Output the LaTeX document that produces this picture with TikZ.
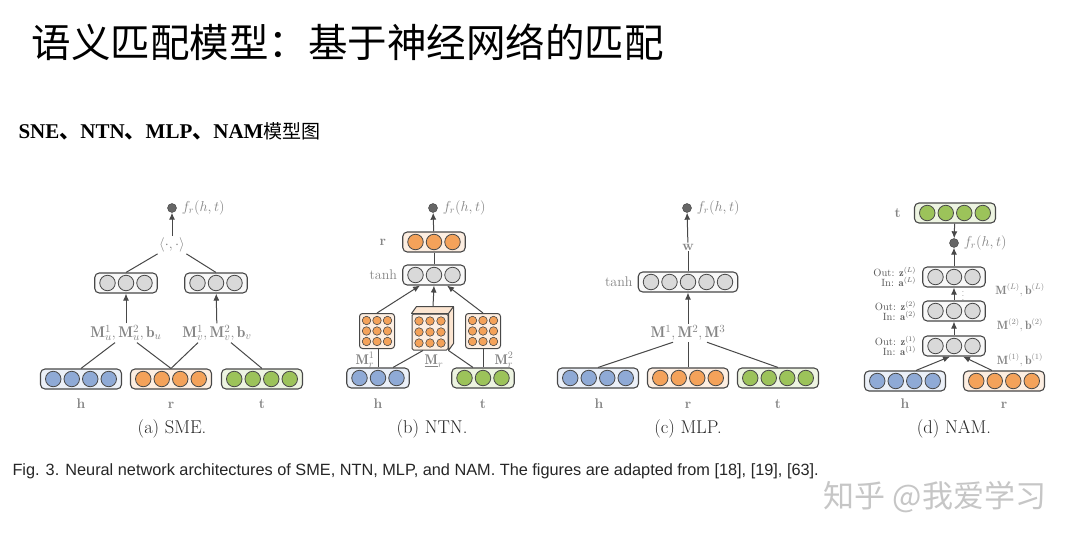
\documentclass[tikz,border=0pt]{standalone}
\usepackage{fontspec}
\usepackage{amsmath, amssymb}
\usepackage{xcolor}
\usetikzlibrary{positioning, calc, arrows.meta}

\newfontfamily\cjk{Noto Sans CJK SC}
\newfontfamily\capfont{Liberation Sans}
\newfontfamily\subfont{Liberation Serif}

\definecolor{hblue}{HTML}{8FAAD6}
\definecolor{rorange}{HTML}{F4A25A}
\definecolor{tgreen}{HTML}{9CC35A}
\definecolor{hidgray}{HTML}{D9D9D9}
\definecolor{labelgray}{HTML}{858585}
\definecolor{linegray}{HTML}{484848}

\tikzset{
  vecbox/.style={draw=linegray, line width=1.1pt, rounded corners=4.5pt, minimum height=20pt, inner sep=0pt},
  unit/.style={circle, draw=linegray, line width=0.8pt, minimum size=15.5pt, inner sep=0pt},
  matbox/.style={draw=linegray, line width=1pt, rounded corners=3pt, fill=rorange!18, minimum size=35pt, inner sep=0pt},
  matunit/.style={circle, draw=linegray, line width=0.6pt, fill=rorange, minimum size=8.5pt, inner sep=0pt},
  outdot/.style={circle, draw=black!75, fill=black!60, minimum size=9pt, inner sep=0pt},
  link/.style={draw=linegray, line width=1pt},
  arr/.style={draw=linegray, line width=1pt, -{Latex[length=7pt,width=6pt]}},
  vname/.style={text=labelgray, inner sep=1pt, font=\fontsize{14}{16}\selectfont\bfseries},
  mname/.style={text=labelgray, inner sep=1.5pt, font=\fontsize{15.5}{17}\selectfont},
  fname/.style={text=labelgray, inner sep=1pt, font=\fontsize{14}{16}\selectfont},
  nname/.style={text=black!65, inner sep=1pt, align=right, font=\fontsize{10.5}{9.5}\selectfont},
  capname/.style={text=black!85, font=\fontsize{18.5}{20}\selectfont}
}

% a row of units inside a rounded box
\newcommand{\veclayer}[4]{%
  \pgfmathsetmacro\boxw{#3*18.5+7}
  \node[vecbox, fill=#4!18, minimum width=\boxw pt] (#1) at (#2) {};
  \foreach \k in {1,...,#3}
    \node[unit, fill=#4] at ([xshift={(\k-(#3+1)/2)*18.5pt}]#1.center) {};
}
% a 3x3 weight matrix
\newcommand{\weightmat}[2]{%
  \node[matbox] (#1) at (#2) {};
  \foreach \i in {-1,0,1}
    \foreach \j in {-1,0,1}
      \node[matunit] at ([shift={(\i*10.5pt,\j*10.5pt)}]#1.center) {};
}

\begin{document}
\begin{tikzpicture}[x=1pt, y=-1pt]
\fill[white] (0,0) rectangle (1080,544);
\useasboundingbox (0,0) rectangle (1080,544);

\node[anchor=west] (title) at (28,42) {\cjk\fontsize{39.5}{39.5}\selectfont 语义匹配模型：基于神经网络的匹配};
\node[anchor=west] (subtitle) at (15,131) {\fontsize{21}{21}\selectfont\subfont\bfseries SNE{\cjk 、}NTN{\cjk 、}MLP{\cjk 、}NAM{\cjk\mdseries\fontsize{19}{19}\selectfont 模型图}};

% (a) SME
\veclayer{ah}{81,379}{4}{hblue}
\veclayer{ar}{171,379}{4}{rorange}
\veclayer{at}{262,379}{4}{tgreen}
\node[vname, anchor=base] at (81,408) {h};
\node[vname, anchor=base] at (171,408) {r};
\node[vname, anchor=base] at (262,408) {t};
\veclayer{au}{126,283}{3}{hidgray}
\veclayer{av}{216,283}{3}{hidgray}
\node[mname] (aml) at (126,333) {$\mathbf{M}_u^1,\mathbf{M}_u^2,\mathbf{b}_u$};
\node[mname] (amr) at (217,333) {$\mathbf{M}_v^1,\mathbf{M}_v^2,\mathbf{b}_v$};
\node[mname] (aip) at (172,245) {$\langle\cdot,\cdot\rangle$};
\node[outdot] (adot) at (172,208) {};
\node[fname, right=4pt of adot] {$f_r(h,t)$};
\draw[link] (ah.north) -- ([xshift=-11pt]aml.south);
\draw[link] (ar.north) -- ([xshift=11pt]aml.south);
\draw[link] (ar.north) -- ([xshift=-19pt]amr.south);
\draw[link] (at.north) -- ([xshift=14pt]amr.south);
\draw[arr] (aml) -- (au);
\draw[arr] (amr) -- (av);
\draw[link] (au.north) -- (aip.south west);
\draw[link] (av.north) -- (aip.south east);
\draw[arr] (aip) -- (adot);
\node[capname] at (172,429) {(a) SME.};

% (b) NTN
\veclayer{bh}{378,378}{3}{hblue}
\veclayer{bt}{483,378}{3}{tgreen}
\node[vname, anchor=base] at (378,408) {h};
\node[vname, anchor=base] at (483,408) {t};
\weightmat{bm1}{377,331}
\weightmat{bm2}{483,331}
\node[matbox, minimum size=36pt, rounded corners=1.5pt] (bmr) at (430,332) {};
\filldraw[draw=linegray, line width=1pt, fill=rorange!28, line join=round] (bmr.north west) -- ++(5pt,7pt) -- ([shift={(5pt,7pt)}]bmr.north east) -- ([shift={(5pt,7pt)}]bmr.south east) -- (bmr.south east) -- (bmr.north east) -- cycle;
\draw[link] (bmr.north east) -- ++(5pt,7pt);
\foreach \i in {-1,0,1}
  \foreach \j in {-1,0,1}
    \node[matunit] at ([shift={(\i*11pt,\j*11pt)}]bmr.center) {};
\node[mname, font=\fontsize{14}{16}\selectfont] (bl1) at (365,360) {$\mathbf{M}_r^1$};
\node[mname, font=\fontsize{14}{16}\selectfont] (blr) at (434,361) {$\underline{\mathbf{M}}_r$};
\node[mname, font=\fontsize{14}{16}\selectfont] (bl2) at (504,360) {$\mathbf{M}_r^2$};
\draw[link] (bh.north) -- (bh.north |- bm1.south);
\draw[link] ([xshift=15pt]bh.north) -- ([xshift=-7pt]bmr.south);
\draw[link] (bmr.south east) -- ([xshift=-10pt]bt.north);
\draw[link] (bt.north) -- (bm2.south);
\veclayer{btanh}{434,275}{3}{hidgray}
\node[fname, left=4pt of btanh] {tanh};
\draw[arr] (bm1.north) -- ([xshift=-14pt]btanh.south);
\draw[arr] ([shift={(3pt,7pt)}]bmr.north) -- (btanh.south);
\draw[arr] (bm2.north) -- ([xshift=13pt]btanh.south);
\veclayer{br}{434,242}{3}{rorange}
\node[vname, left=15pt of br] {r};
\draw[link] (btanh) -- (br);
\node[outdot] (bdot) at (433,208) {};
\draw[arr] (br) -- (bdot);
\node[fname, right=4pt of bdot] {$f_r(h,t)$};
\node[capname] at (432,429) {(b) NTN.};

% (c) MLP
\veclayer{ch}{598,378}{4}{hblue}
\veclayer{cr}{688,378}{4}{rorange}
\veclayer{ct}{778,378}{4}{tgreen}
\node[vname, anchor=base] at (599,408) {h};
\node[vname, anchor=base] at (688,408) {r};
\node[vname, anchor=base] at (778,408) {t};
\node[mname] (cm) at (688,333) {$\mathbf{M}^1,\mathbf{M}^2,\mathbf{M}^3$};
\draw[link] (ch.north) -- ([xshift=-15pt]cm.south);
\draw[link] (cr) -- (cm);
\draw[link] (ct.north) -- ([xshift=19pt]cm.south);
\veclayer{ctanh}{688,282}{5}{hidgray}
\node[fname, left=4pt of ctanh] {tanh};
\draw[arr] (cm) -- (ctanh);
\node[vname] (cw) at (688,247) {w};
\draw[link] (ctanh) -- (cw);
\node[outdot] (cdot) at (687,208) {};
\draw[arr] (cw) -- (cdot);
\node[fname, right=4pt of cdot] {$f_r(h,t)$};
\node[capname] at (688,429) {(c) MLP.};

% (d) NAM
\veclayer{dh}{905,381}{4}{hblue}
\veclayer{dr}{1004,381}{4}{rorange}
\node[vname, anchor=base] at (905,408) {h};
\node[vname, anchor=base] at (1004,408) {r};
\veclayer{d1}{954,346}{3}{hidgray}
\veclayer{d2}{954,311}{3}{hidgray}
\veclayer{d3}{954,277}{3}{hidgray}
\node[nname, left=5pt of d1] {Out: $\mathbf{z}^{(1)}$\\In: $\mathbf{a}^{(1)}$};
\node[nname, left=5pt of d2] {Out: $\mathbf{z}^{(2)}$\\In: $\mathbf{a}^{(2)}$};
\node[nname, left=5pt of d3] {Out: $\mathbf{z}^{(L)}$\\In: $\mathbf{a}^{(L)}$};
\node[mname, font=\fontsize{12}{14}\selectfont] at (1020,360) {$\mathbf{M}^{(1)},\mathbf{b}^{(1)}$};
\node[mname, font=\fontsize{12}{14}\selectfont] at (1020,325) {$\mathbf{M}^{(2)},\mathbf{b}^{(2)}$};
\node[mname, font=\fontsize{12}{14}\selectfont] at (1020,290) {$\mathbf{M}^{(L)},\mathbf{b}^{(L)}$};
\draw[arr] ([xshift=11pt]dh.north) -- ([xshift=-4pt]d1.south);
\draw[arr] ([xshift=-12pt]dr.north) -- ([xshift=9pt]d1.south);
\draw[arr] (d1) -- (d2);
\draw[arr] (d2) -- (d3);
\node[text=black!70, inner sep=0pt, font=\fontsize{8}{8}\selectfont] (dvd) at (963,293) {$\vdots$};
\node[outdot] (ddot) at (954,243) {};
\draw[arr] (d3) -- (ddot);
\veclayer{dt}{955,213}{4}{tgreen}
\draw[arr] (dt) -- (ddot);
\node[vname, left=12pt of dt] {t};
\node[fname, right=4pt of ddot] {$f_r(h,t)$};
\node[capname] at (954,429) {(d) NAM.};

\node[anchor=west, text=black!85] (figcap) at (9,471) {\capfont\fontsize{16.3}{18}\selectfont Fig. 3. Neural network architectures of SME, NTN, MLP, and NAM. The figures are adapted from [18], [19], [63].};
\node[text=gray!45] (mark) at (935,497) {\cjk\fontsize{31}{31}\selectfont 知乎 @我爱学习};
\end{tikzpicture}
\end{document}
